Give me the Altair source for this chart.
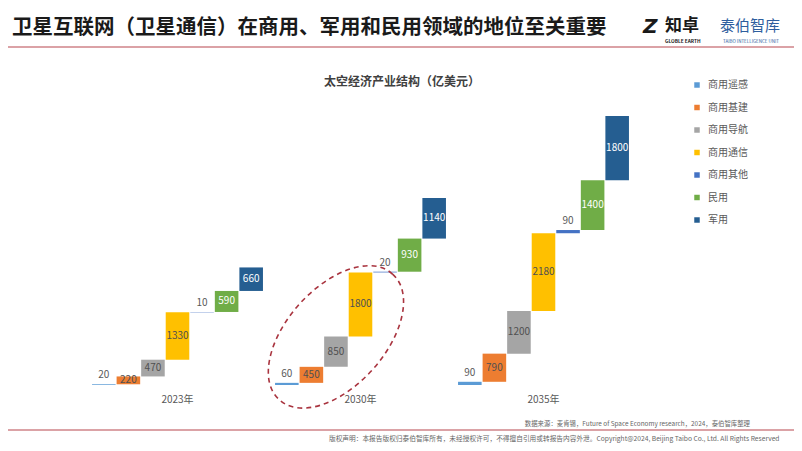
import altair as alt
import pandas as pd

years = ["2023年", "2030年", "2035年"]
categories = ["商用遥感", "商用基建", "商用导航", "商用通信", "商用其他", "民用", "军用"]
colors = ["#5B9BD5", "#ED7D31", "#A5A5A5", "#FFC000", "#4472C4", "#70AD47", "#255E91"]
values_2023 = [20, 220, 470, 1330, 10, 590, 660]
values_2030 = [60, 450, 850, 1800, 20, 930, 1140]
values_2035 = [90, 790, 1200, 2180, 90, 1400, 1800]
small_cats = ["商用遥感", "商用其他"]
dark_cats = ["商用基建", "商用导航", "商用通信"]
white_cats = ["民用", "军用"]

rows = []
for y, vals in zip(years, [values_2023, values_2030, values_2035]):
    for i, (c, v) in enumerate(zip(categories, vals)):
        rows.append({"year": y, "category": c, "value": v, "order": i})
df = pd.DataFrame(rows)

W, H = 549, 285
FONT = "Noto Sans CJK SC"

base = alt.Chart(df).transform_window(
    cum="sum(value)", groupby=["year"], sort=[{"field": "order"}], frame=[None, 0]
).transform_calculate(
    start="datum.cum - datum.value",
    mid="(datum.cum + datum.cum - datum.value) / 2",
)

xenc = alt.X("year:N", sort=years,
             scale=alt.Scale(paddingInner=0.066, paddingOuter=0.033),
             axis=alt.Axis(title=None, labelAngle=0, domain=False, ticks=False,
                           labelFontSize=10, labelColor="#595959", labelPadding=9,
                           labelFont=FONT))
xoff = alt.XOffset("category:N", sort=categories,
                   scale=alt.Scale(paddingInner=0.04, paddingOuter=0))
yscale = alt.Scale(domain=[0, 8000], nice=False)

bars = base.mark_bar().encode(
    x=xenc,
    xOffset=xoff,
    y=alt.Y("start:Q", scale=yscale, axis=None),
    y2="cum:Q",
    color=alt.Color("category:N", sort=categories,
                    scale=alt.Scale(domain=categories, range=colors),
                    legend=alt.Legend(title=None, orient="none", legendX=606, legendY=-20,
                                      symbolType="square", symbolSize=30, labelFontSize=10,
                                      labelColor="#595959", rowPadding=12.5,
                                      labelFont=FONT, labelOffset=6)),
)

def value_text(cats, field, color, dy=0):
    return base.transform_filter(
        alt.FieldOneOfPredicate(field="category", oneOf=cats)
    ).mark_text(fontSize=10, color=color, dy=dy, font=FONT).encode(
        x=alt.X("year:N", sort=years), xOffset=xoff,
        y=alt.Y(field + ":Q", scale=yscale), text="value:Q")

txt_small = value_text(small_cats, "cum", "#595959", dy=-9)
txt_dark = value_text(dark_cats, "mid", "#505050")
txt_white = value_text(white_cats, "mid", "white")

# dashed ellipse around 2030 group (annotation)
ell_path = "M 0.669,-0.743 A 1 0.57 -48 1 0 -0.669,0.743 A 1 0.57 -48 1 0 0.669,-0.743 Z"
ellipse = alt.Chart(pd.DataFrame({"year": ["2030年"], "category": ["商用导航"], "v": [1350]})).mark_point(
    shape=ell_path, size=169 * 169, filled=False, stroke="#A9343F",
    strokeWidth=1.6, strokeDash=[5, 4], opacity=1
).encode(x=alt.X("year:N", sort=years), xOffset=xoff, y=alt.Y("v:Q", scale=yscale))

def label(text, x, y, size, color="#222", weight="normal", align="left", font=FONT, **kw):
    return alt.Chart(pd.DataFrame({"t": [text]})).mark_text(
        fontSize=size, color=color, fontWeight=weight, align=align, baseline="middle", font=font, **kw
    ).encode(x=alt.value(x), y=alt.value(y), text="t:N")

OX, OY = 86, 100  # page coords of plot origin
annos = [
    label("卫星互联网（卫星通信）在商用、军用和民用领域的地位至关重要", 12 - OX, 28 - OY, 20.5, "#1a1a1a", "bold"),
    label("太空经济产业结构（亿美元）", 402 - OX, 82 - OY, 12, "#404040", "bold", "center"),
    label("Z", 643 - OX, 27 - OY, 20, "#1a1a1a", "bold", "left", "DejaVu Sans", fontStyle="italic"),
    label("知卓", 665 - OX, 26 - OY, 17, "#1a1a1a", "bold"),
    label("GLOBLE EARTH", 665 - OX, 42 - OY, 4.8, "#1a1a1a", "bold"),
    label("泰伯智库", 720 - OX, 26 - OY, 15, "#2E5E9E"),
    label("TAIBO INTELLIGENCE UNIT", 723 - OX, 42 - OY, 4.5, "#2E5E9E"),
    label("数据来源：麦肯锡，Future of Space Economy research，2024，泰伯智库整理", 750 - OX, 424 - OY, 6.4, "#666", "normal", "right"),
    label("版权声明：本报告版权归泰伯智库所有，未经授权许可，不得擅自引用或转报告内容外泄。Copyright@2024, Beijing Taibo Co., Ltd. All Rights Reserved", 329 - OX, 438.5 - OY, 6.7, "#666"),
]

lines_df = pd.DataFrame({"x": [8 - OX, 8 - OX], "x2": [794 - OX, 794 - OX], "y": [47 - OY, 430 - OY]})
redlines = alt.Chart(lines_df).mark_rule(color="#B8464F", strokeWidth=1.2).encode(
    x=alt.X("x:Q", scale=None), x2="x2:Q", y=alt.Y("y:Q", scale=None))

chart = alt.layer(bars, txt_small, txt_dark, txt_white, ellipse, redlines, *annos).properties(
    width=W, height=H,
    autosize=alt.AutoSizeParams(type="none"),
    padding={"left": 78, "top": 92, "right": 159, "bottom": 58},
).configure(background="white").configure_view(stroke=None)

chart.save("out.html", embed_options={"renderer": "svg", "actions": False})
